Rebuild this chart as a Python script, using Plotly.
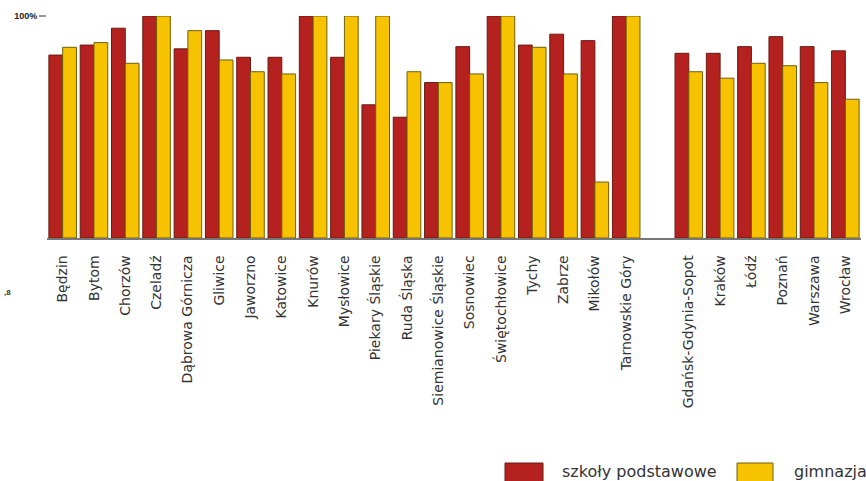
import plotly.graph_objects as go

categories = ["Będzin", "Bytom", "Chorzów", "Czeladź", "Dąbrowa Górnicza", "Gliwice",
              "Jaworzno", "Katowice", "Knurów", "Mysłowice", "Piekary Śląskie",
              "Ruda Śląska", "Siemianowice Śląskie", "Sosnowiec", "Świętochłowice",
              "Tychy", "Zabrze", "Mikołów", "Tarnowskie Góry", " ",
              "Gdańsk-Gdynia-Sopot", "Kraków", "Łódź", "Poznań", "Warszawa", "Wrocław"]

szkoly_podstawowe = [0.824, 0.869, 0.945, 1.0, 0.852, 0.934, 0.814, 0.814, 1.0, 0.814,
                     0.600, 0.544, 0.700, 0.862, 1.0, 0.869, 0.918, 0.889, 1.0, None,
                     0.832, 0.832, 0.862, 0.907, 0.862, 0.843]

gimnazja = [0.859, 0.880, 0.787, 1.0, 0.934, 0.802, 0.749, 0.739, 1.0, 1.0,
            1.0, 0.749, 0.700, 0.739, 1.0, 0.859, 0.739, 0.252, 1.0, None,
            0.749, 0.720, 0.787, 0.776, 0.700, 0.625]

series_names = ["szkoły podstawowe", "gimnazja"]
series_colors = ["#B4211F", "#F7C200"]
series_edges = ["#6a1a10", "#6f5f10"]

y_tick_vals = [1.0]
y_tick_text = ["100%"]

W, H = 866, 481
ML, MR, MT, MB = 47, 5, 16, 243
PW, PH = W - ML - MR, H - MT - MB


def px(x):
    return (x - ML) / PW


def py(y):
    return (H - MB - y) / PH


fig = go.Figure()
for name, vals, col, edge in zip(series_names, [szkoly_podstawowe, gimnazja],
                                 series_colors, series_edges):
    fig.add_trace(go.Bar(x=categories, y=vals, name=name,
                         marker=dict(color=col, line=dict(color=edge, width=1))))

# custom legend (wide swatches like the original)
legend_swatches = [(505, 543), (737, 773)]
legend_text_x = [560, 792]
shapes = []
annotations = []
for (x0, x1), tx, name, col, edge in zip(legend_swatches, legend_text_x, series_names,
                                          series_colors, series_edges):
    shapes.append(dict(type="rect", xref="paper", yref="paper",
                       x0=px(x0), x1=px(x1), y0=py(463), y1=py(490),
                       fillcolor=col, line=dict(color=edge, width=1)))
    annotations.append(dict(text=name, xref="paper", yref="paper", x=px(tx), y=py(471),
                            xanchor="left", yanchor="middle", showarrow=False,
                            font=dict(family="DejaVu Sans, sans-serif", size=16, color="#333")))

annotations.append(dict(text="<b>,8</b>", xref="paper", yref="paper", x=px(2), y=py(292),
                        xanchor="left", yanchor="middle", showarrow=False,
                        font=dict(size=8, color="#333")))

fig.update_layout(
    width=W, height=H,
    margin=dict(l=ML, r=MR, t=MT, b=MB, autoexpand=False),
    plot_bgcolor="white", paper_bgcolor="white",
    barmode="group", bargap=0.12, bargroupgap=0,
    font=dict(family="Liberation Sans, Arial, sans-serif", color="#222"),
    showlegend=False,
    shapes=shapes,
    annotations=annotations,
)
fig.update_xaxes(type="category", tickangle=-90,
                 tickfont=dict(family="DejaVu Sans, sans-serif", size=14, color="#333"),
                 ticks="outside", ticklen=10, tickcolor="rgba(0,0,0,0)",
                 showline=True, linecolor="#777", linewidth=1.5, showgrid=False)
fig.update_yaxes(range=[0, 1.0], tickvals=y_tick_vals, ticktext=y_tick_text,
                 tickfont=dict(size=9, color="#222", weight="bold"),
                 ticks="outside", ticklen=7, tickcolor="#999", tickwidth=1.5,
                 showgrid=True, gridcolor="#999",
                 gridwidth=1.5, zeroline=False, showline=False)

fig.write_html("out.html", config={"displayModeBar": False})

# remove default page margin so the figure sits at the window's origin
with open("out.html", encoding="utf-8") as f:
    html = f.read()
html = html.replace("<head>", "<head><style>html,body{margin:0;padding:0;overflow:hidden}</style>", 1)
with open("out.html", "w", encoding="utf-8") as f:
    f.write(html)
